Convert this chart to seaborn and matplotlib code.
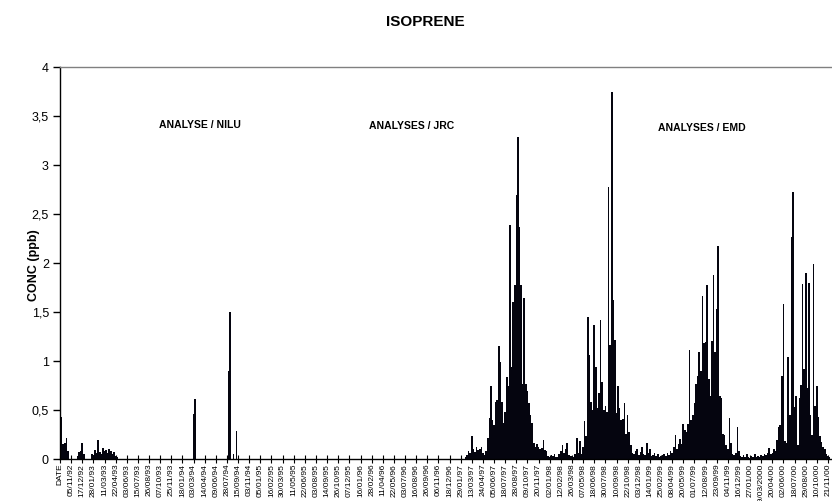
import numpy as np
import pandas as pd
import matplotlib
matplotlib.use("Agg")
import matplotlib.pyplot as plt
import seaborn as sns

# ---------------- data ----------------
tick_labels = [
    "DATE", "05/11/92", "17/12/92", "28/01/93", "11/03/93", "22/04/93", "03/06/93",
    "15/07/93", "26/08/93", "07/10/93", "25/11/93", "18/01/94", "03/03/94", "14/04/94",
    "09/06/94", "28/07/94", "15/09/94", "03/11/94", "05/01/95", "16/02/95", "30/03/95",
    "11/05/95", "22/06/95", "03/08/95", "14/09/95", "26/10/95", "07/12/95", "16/01/96",
    "28/02/96", "11/04/96", "22/05/96", "03/07/96", "16/08/96", "26/09/96", "06/11/96",
    "18/12/96", "29/01/97", "13/03/97", "24/04/97", "05/06/97", "18/07/97", "28/08/97",
    "09/10/97", "20/11/97", "02/01/98", "12/02/98", "26/03/98", "07/05/98", "18/06/98",
    "30/07/98", "10/09/98", "22/10/98", "03/12/98", "14/01/99", "25/02/99", "08/04/99",
    "20/05/99", "01/07/99", "12/08/99", "23/09/99", "04/11/99", "16/12/99", "27/01/00",
    "09/03/2000", "20/04/00", "02/06/00", "18/07/00", "29/08/00", "10/10/00", "21/11/00",
]
SAMPLES_PER_TICK = 7

# measurement blocks: first sample index + concentrations (ppb)
nilu_1992_start = 1
nilu_1992_conc = [0.43, 0.15, 0.16, 0.21, 0.08]

nilu_1993a_start = 11
nilu_1993a_conc = [0.03, 0.07, 0.08, 0.16, 0.05]

nilu_1993b_start = 20
nilu_1993b_conc = [0.05, 0.04, 0.09, 0.06, 0.19, 0.07, 0.05, 0.11, 0.08, 0.09,
                   0.06, 0.10, 0.08, 0.05, 0.07, 0.03, 0.02]

nilu_1994a_start = 84
nilu_1994a_conc = [0.46, 0.61]

nilu_1994b_start = 106
nilu_1994b_conc = [0.90, 1.50, 0.0, 0.05, 0.0, 0.29]

jrc_1997_start = 255
jrc_1997_conc = [0.02, 0.04, 0.08, 0.06, 0.23, 0.10, 0.07, 0.12, 0.09, 0.10,
                 0.12, 0.06, 0.04, 0.08, 0.21, 0.42, 0.74, 0.40, 0.35, 0.58,
                 0.60, 1.15, 0.99, 0.58, 0.37, 0.48, 0.84, 0.74, 2.39, 0.94,
                 1.60, 1.78, 2.69, 3.29, 2.37, 1.78, 0.77, 1.64, 0.77, 0.69,
                 0.57, 0.45, 0.37, 0.16, 0.12, 0.15, 0.12, 0.10, 0.11, 0.19,
                 0.09, 0.08, 0.03, 0.02, 0.04, 0.03, 0.05, 0.02, 0.02, 0.05,
                 0.08, 0.14, 0.06, 0.10, 0.16]

emd_1998_start = 320
emd_1998_conc = [0.04, 0.03, 0.03, 0.02, 0.05, 0.21, 0.06, 0.18, 0.05, 0.12,
                 0.39, 0.23, 1.45, 1.06, 0.58, 0.50, 1.37, 0.94, 0.52, 0.67,
                 1.42, 0.79, 0.50, 0.54, 0.48, 2.78, 1.16, 3.75, 1.62, 1.21,
                 0.47, 0.74, 0.52, 0.40, 0.41, 0.57, 0.26, 0.45, 0.28, 0.14,
                 0.06, 0.05, 0.08, 0.10, 0.04, 0.07, 0.12, 0.05, 0.04, 0.16,
                 0.06, 0.10, 0.03, 0.04, 0.06, 0.03, 0.05, 0.02, 0.03, 0.04,
                 0.05, 0.03, 0.06, 0.04, 0.08, 0.06, 0.12, 0.25, 0.10, 0.15,
                 0.20, 0.15, 0.36, 0.30, 0.28, 0.36, 1.11, 0.40, 0.45]

emd_1999_start = 399
emd_1999_conc = [0.57, 0.77, 0.85, 1.09, 0.90, 1.66, 1.18, 1.19, 1.78, 0.82,
                 0.64, 1.20, 1.88, 1.09, 1.53, 2.17, 0.64, 0.62, 0.26, 0.25,
                 0.14, 0.10, 0.42, 0.16, 0.05, 0.04, 0.06, 0.33, 0.08, 0.03,
                 0.02, 0.04, 0.02, 0.05, 0.02, 0.01, 0.03, 0.02, 0.05, 0.02,
                 0.03, 0.02, 0.04, 0.03, 0.05, 0.04, 0.06]

emd_2000_start = 446
emd_2000_conc = [0.11, 0.05, 0.06, 0.10, 0.08, 0.19, 0.33, 0.35, 0.85, 1.58,
                 0.18, 0.16, 1.04, 0.45, 2.27, 2.72, 0.53, 0.64, 0.14, 0.62,
                 0.76, 1.79, 0.92, 1.90, 0.72, 1.80, 0.45, 0.25, 1.99, 0.54,
                 0.74, 0.43, 0.23, 0.17, 0.12, 0.10, 0.05, 0.03, 0.02]

campaign_labels = ["ANALYSE / NILU", "ANALYSES / JRC", "ANALYSES / EMD"]

# ---------------- assemble ----------------
blocks = [
    (nilu_1992_start, nilu_1992_conc), (nilu_1993a_start, nilu_1993a_conc),
    (nilu_1993b_start, nilu_1993b_conc), (nilu_1994a_start, nilu_1994a_conc),
    (nilu_1994b_start, nilu_1994b_conc), (jrc_1997_start, jrc_1997_conc),
    (emd_1998_start, emd_1998_conc), (emd_1999_start, emd_1999_conc),
    (emd_2000_start, emd_2000_conc),
]
sample_idx, conc = [], []
for start, vals in blocks:
    sample_idx.extend(range(start, start + len(vals)))
    conc.extend(vals)
df = pd.DataFrame({"sample": sample_idx, "conc": conc})

# ---------------- plot ----------------
sns.set_theme(style="white")
plt.rcParams["font.family"] = ["Liberation Sans", "DejaVu Sans"]
plt.rcParams["text.color"] = "black"
plt.rcParams["axes.labelcolor"] = "black"

W, H = 832, 501
fig = plt.figure(figsize=(W / 100, H / 100), dpi=100)
x_max = 500
px_per_sample = 11.13 / SAMPLES_PER_TICK
ax = fig.add_axes([60 / W, 42 / H, x_max * px_per_sample / W, 392 / H])

sns.barplot(data=df, x="sample", y="conc", native_scale=True, color="#05050f",
            saturation=1, width=1.0, errorbar=None, linewidth=0, ax=ax)

ax.set_xlim(0, x_max)
ax.set_ylim(0, 4)
yt = np.arange(0, 4.01, 0.5)
ax.set_yticks(yt)
ax.set_yticklabels([("%g" % v).replace(".", ",") for v in yt])
ax.set_xticks([SAMPLES_PER_TICK * k for k in range(len(tick_labels))])
ax.set_xticklabels(tick_labels, rotation=90, va="top", ha="center")

ax.tick_params(axis="y", left=True, direction="out", length=5, width=1,
               labelsize=9, pad=3, colors="black")
ax.tick_params(axis="x", bottom=True, direction="inout", length=6, width=0.8,
               labelsize=6, pad=0.5, colors="black")

for s in ["left", "bottom"]:
    ax.spines[s].set_color("black")
    ax.spines[s].set_linewidth(1.0)
ax.spines["top"].set_color("#808080")
ax.spines["top"].set_linewidth(1.0)
ax.spines["right"].set_visible(False)

ax.set_xlabel("")
ax.set_ylabel("")
ax.grid(False)

fig.text(34 / W, 1 - 265 / H, "CONC (ppb)", rotation=90, ha="center", va="center",
         fontsize=9, fontweight="bold", color="black")
fig.text(425 / W, 1 - 22 / H, "ISOPRENE", ha="center", va="center",
         fontsize=11, fontweight="bold", color="black")

label_pos = [(87.7, 3.41), (220.8, 3.40), (403.6, 3.38)]
for (lx, ly), txt in zip(label_pos, campaign_labels):
    ax.text(lx, ly, txt, ha="center", va="center", fontsize=7.5,
            fontweight="bold", color="black")

fig.savefig("out.png", dpi=100)
